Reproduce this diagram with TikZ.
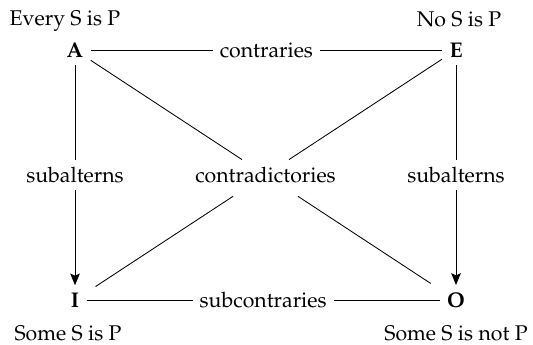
\documentclass[tikz,border=0pt]{standalone}
\usepackage[T1]{fontenc}
\usepackage{mathpazo}
\usetikzlibrary{arrows.meta}

\begin{document}
\begin{tikzpicture}[x=0.47pt,y=-0.47pt,every node/.style={font=\normalsize},
    corner/.style={font=\bfseries},
    rel/.style={fill=white},
    sub/.style={-{Stealth[length=5.5pt,width=4.5pt,inset=1pt]}},
    diag/.style={shorten <=5pt,shorten >=5pt}]
                \useasboundingbox (0,0) rectangle (533,344);
                \node[corner] (A) at (75,50) {A};
                \node[corner] (E) at (456,50) {E};
                \node[corner] (I) at (75,300) {I};
                \node[corner] (O) at (456,300) {O};
                \node[anchor=base] (tA) at (65,25) {Every S is P};
                \node[anchor=base] (tE) at (459,26) {No S is P};
                \node[anchor=base] (tI) at (68,340) {Some S is P};
                \node[anchor=base] (tO) at (456,340) {Some S is not P};
                \node (X) at (265.5,175) {contradictories};
                \draw (A) -- node[rel] {contraries} (E);
                \draw (I) -- node[rel] {subcontraries} (O);
                \draw[sub] (A) -- node[rel] {subalterns} (I);
                \draw[sub] (E) -- node[rel] {subalterns} (O);
                \draw[diag] (A) -- (X) -- (O);
                \draw[diag] (E) -- (X) -- (I);
            \end{tikzpicture}
\end{document}
